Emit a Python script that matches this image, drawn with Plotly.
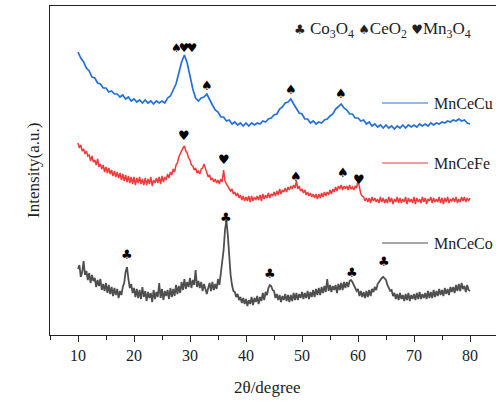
import plotly.graph_objects as go

# 2-theta grids (degrees)
two_theta = [10 + 0.5 * i for i in range(141)]
two_theta_fine = [10 + 0.25 * i for i in range(281)]

# Offset intensities (a.u.) for each catalyst
mnce_cu = [283, 277, 273, 267, 264, 258, 257, 252, 251, 247, 247, 243, 244, 241, 241, 238, 240, 236, 238, 234,
           236, 233, 235, 232, 235, 232, 234, 231, 234, 232, 234, 232, 237, 239, 245, 251, 262, 273, 280, 272,
           259, 246, 237, 234, 237, 238, 241, 235, 230, 225, 223, 218, 218, 214, 215, 211, 213, 210, 212, 209,
           212, 209, 212, 210, 212, 211, 214, 213, 216, 217, 220, 221, 226, 228, 232, 233, 236, 231, 227, 222,
           221, 216, 216, 212, 214, 211, 213, 212, 215, 216, 219, 221, 226, 229, 231, 227, 225, 221, 221, 217,
           217, 214, 215, 211, 213, 209, 211, 208, 210, 207, 210, 207, 209, 206, 209, 207, 210, 207, 210, 208,
           210, 208, 211, 209, 211, 209, 212, 210, 212, 211, 213, 212, 214, 213, 215, 214, 216, 214, 215, 212,
           211]

# MnCeFe and MnCeCo sampled every 0.25 degree
mnce_fe = [192, 187, 190, 184, 186, 181, 184, 179, 180, 174, 179, 173, 175, 170, 176, 168,
           171, 166, 170, 163, 168, 162, 167, 161, 165, 159, 164, 158, 163, 157, 162, 155,
           161, 154, 160, 153, 159, 152, 158, 151, 158, 150, 157, 152, 158, 151, 156, 150,
           157, 150, 156, 151, 158, 149, 155, 152, 157, 152, 158, 151, 159, 153, 158, 155,
           161, 157, 163, 160, 166, 163, 170, 172, 178, 181, 185, 187, 189, 184, 182, 177,
           175, 170, 169, 165, 167, 162, 164, 161, 166, 167, 171, 166, 161, 158, 160, 155,
           157, 153, 156, 152, 155, 151, 156, 153, 165, 154, 151, 149, 147, 144, 146, 141,
           143, 139, 142, 137, 140, 135, 139, 134, 138, 134, 139, 133, 139, 134, 138, 135,
           139, 135, 140, 134, 141, 136, 140, 137, 142, 137, 141, 139, 143, 139, 144, 140,
           146, 141, 145, 143, 147, 143, 148, 145, 149, 146, 150, 147, 154, 146, 149, 144,
           146, 142, 145, 140, 143, 139, 142, 138, 141, 137, 141, 136, 141, 137, 142, 138,
           143, 139, 143, 140, 145, 141, 146, 143, 148, 144, 149, 146, 150, 145, 149, 146,
           149, 145, 150, 146, 148, 145, 149, 147, 155, 146, 141, 139, 138, 134, 137, 133,
           137, 132, 138, 134, 137, 133, 136, 132, 138, 133, 137, 132, 136, 132, 138, 133,
           137, 131, 136, 133, 138, 132, 137, 132, 136, 133, 138, 131, 137, 133, 136, 132,
           138, 131, 137, 133, 136, 132, 138, 133, 137, 131, 136, 134, 138, 132, 137, 133,
           136, 133, 138, 132, 137, 131, 137, 133, 138, 132, 136, 134, 137, 133, 138, 132,
           136, 133, 138, 134, 138, 133, 137, 134, 137]

mnce_co = [66, 70, 58, 63, 74, 60, 64, 55, 62, 52, 60, 54, 57, 48, 55, 49,
           56, 45, 51, 44, 52, 42, 50, 41, 48, 39, 47, 40, 46, 37, 44, 40,
           48, 52, 63, 68, 56, 47, 51, 42, 47, 38, 46, 37, 45, 36, 48, 38,
           44, 34, 43, 37, 42, 33, 45, 36, 43, 38, 52, 37, 46, 35, 44, 39,
           45, 36, 47, 38, 46, 39, 50, 41, 49, 42, 53, 45, 56, 46, 53, 48,
           57, 47, 55, 50, 65, 48, 54, 47, 53, 44, 51, 45, 41, 47, 52, 44,
           53, 45, 51, 46, 56, 50, 60, 70, 85, 105, 115, 100, 75, 60, 50, 44,
           43, 38, 41, 35, 38, 32, 37, 31, 36, 29, 35, 31, 38, 30, 37, 33,
           39, 31, 38, 34, 42, 35, 43, 40, 47, 50, 49, 45, 44, 37, 41, 35,
           40, 33, 39, 35, 41, 34, 40, 33, 40, 34, 42, 35, 42, 35, 41, 37,
           43, 36, 42, 37, 44, 36, 43, 38, 45, 38, 46, 40, 47, 40, 48, 42,
           49, 43, 56, 44, 50, 43, 49, 45, 50, 42, 51, 45, 52, 45, 53, 47,
           53, 48, 54, 55, 53, 50, 46, 44, 46, 39, 44, 38, 43, 37, 44, 38,
           45, 39, 46, 43, 48, 45, 51, 53, 56, 57, 58, 56, 55, 50, 47, 44,
           45, 39, 42, 36, 41, 35, 42, 36, 40, 34, 41, 35, 42, 34, 40, 36,
           41, 35, 42, 36, 43, 36, 41, 37, 42, 36, 44, 37, 43, 37, 45, 38,
           44, 39, 46, 40, 45, 39, 47, 41, 46, 40, 48, 43, 48, 42, 50, 44,
           51, 44, 52, 46, 49, 43, 50, 45, 44]

series_names = ["MnCeCu", "MnCeFe", "MnCeCo"]
series_colors = ["#2370dd", "#f03a3a", "#4f4f4f"]
series_widths = [1.7, 1.5, 1.8]

# Phase markers placed above the reflections: (2theta, intensity, symbol, size)
peak_marks = [
    (28.9, 287, "<span style='letter-spacing:-3px'>♠♥♥</span>", 12),
    (33.0, 250, "♠", 13), (48.0, 246, "♠", 13), (57.0, 242, "♠", 13),
    (29.0, 200, "♥", 13), (36.0, 176, "♥", 13), (49.0, 159, "♠", 13), (57.3, 163, "♠", 13),
    (60.2, 156, "♥", 13),
    (18.7, 81, "♣", 13), (36.4, 118, "♣", 13), (44.3, 62, "♣", 13), (59.0, 63, "♣", 13),
    (64.6, 74, "♣", 13),
]

x_ticks = [10, 20, 30, 40, 50, 60, 70, 80]

fig = go.Figure()
for name, xs, vals, col, w in zip(series_names, [two_theta, two_theta_fine, two_theta_fine],
                                  [mnce_cu, mnce_fe, mnce_co], series_colors, series_widths):
    fig.add_trace(go.Scatter(x=xs, y=vals, mode="lines", name=name,
                             line=dict(color=col, width=w), showlegend=False))

annotations = []
for x, y, s, fs in peak_marks:
    annotations.append(dict(x=x, y=y, xref="x", yref="y", text=s, showarrow=False,
                            font=dict(family="DejaVu Sans", size=fs, color="black")))

# series key: short line sample + name, stacked beside each pattern
key_y = [232, 172, 92]
shapes = []
for name, col, ky in zip(series_names, series_colors, key_y):
    shapes.append(dict(type="line", xref="x", yref="y", x0=64.3, x1=72.5, y0=ky, y1=ky,
                       line=dict(color=col, width=1.2)))
    annotations.append(dict(x=73.2, y=ky, xref="x", yref="y", text=name, showarrow=False,
                            xanchor="left", yanchor="middle",
                            font=dict(family="Liberation Serif", size=16, color="#222")))

annotations.append(dict(
    x=0.543, y=305, xref="paper", yref="y",
    text="<span style='font-family:DejaVu Sans;font-size:13px'>♣</span> Co<sub>3</sub>O<sub>4</sub> "
         "<span style='font-family:DejaVu Sans;font-size:13px'>♠</span>CeO<sub>2</sub> "
         "<span style='font-family:DejaVu Sans;font-size:13px'>♥</span>Mn<sub>3</sub>O<sub>4</sub>",
    showarrow=False, xanchor="left", yanchor="middle",
    font=dict(family="Liberation Serif", size=17, color="#222")))

annotations.append(dict(x=-0.063, y=0.5, xref="paper", yref="paper", text="Intensity(a.u.)",
                        textangle=-90, showarrow=False,
                        font=dict(family="Liberation Serif", size=17, color="#222")))
annotations.append(dict(x=0.488, y=-0.161, xref="paper", yref="paper", text="2θ/degree",
                        showarrow=False, yanchor="middle",
                        font=dict(family="Liberation Serif", size=17, color="#222")))

fig.update_layout(
    width=496, height=405,
    margin=dict(l=50, r=0, t=6, b=70),
    paper_bgcolor="white", plot_bgcolor="white",
    annotations=annotations, shapes=shapes,
    xaxis=dict(range=[5, 84.64], tickvals=x_ticks, ticks="outside", ticklen=6, tickwidth=1,
               tickcolor="#222", showline=True, linecolor="#222", linewidth=1.2, mirror=True,
               showgrid=False, zeroline=False,
               minor=dict(dtick=5, tick0=5, ticks="outside", ticklen=4, tickcolor="#222"),
               tickfont=dict(family="Liberation Serif", size=16, color="#222")),
    yaxis=dict(range=[0, 329], showticklabels=False, ticks="", showline=True, linecolor="#222",
               linewidth=1.2, showgrid=False, zeroline=False),
)

fig.write_html("out.html")
